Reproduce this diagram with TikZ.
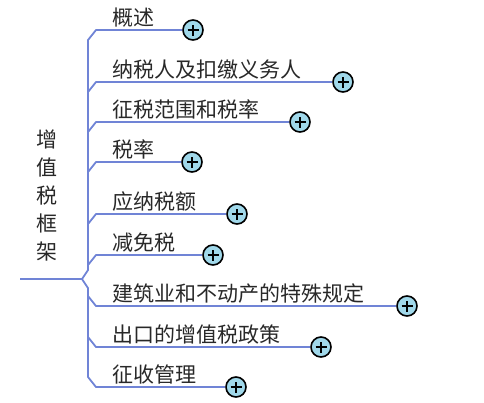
\documentclass[tikz,border=0pt]{standalone}
\usepackage{fontspec}
\setmainfont{Noto Sans CJK SC}
\definecolor{lineblue}{RGB}{112,132,214}
\definecolor{plusfill}{RGB}{160,216,234}
\definecolor{txtgray}{RGB}{40,40,40}
\begin{document}
\begin{tikzpicture}[x=1pt,y=-1pt,
  branch/.style={draw=lineblue, line width=1.8pt, line join=round},
  lbl/.style={anchor=base west, inner sep=0pt, font=\fontsize{21}{21}\selectfont, text=txtgray},
  plus/.style={circle, draw=black, line width=1.6pt, fill=plusfill, minimum size=20pt, inner sep=0pt,
    path picture={\draw[line width=1.6pt] ([xshift=-5.5pt]path picture bounding box.center) -- ([xshift=5.5pt]path picture bounding box.center);
                  \draw[line width=1.6pt] ([yshift=-5.5pt]path picture bounding box.center) -- ([yshift=5.5pt]path picture bounding box.center);}}
]
\useasboundingbox (0,0) rectangle (484,402);

% root
\node[inner sep=0pt, align=center, font=\fontsize{21}{28}\selectfont, text=txtgray] (root) at (47,196) {增\\值\\税\\框\\架};

% plus circles
\node[plus] (c1) at (193,30) {};
\node[plus] (c2) at (343,82) {};
\node[plus] (c3) at (300,122) {};
\node[plus] (c4) at (192,162) {};
\node[plus] (c5) at (237,214) {};
\node[plus] (c6) at (213,255) {};
\node[plus] (c7) at (407,306) {};
\node[plus] (c8) at (321,347) {};
\node[plus] (c9) at (236,387) {};

% labels
\node[lbl] (l1) at (112,25) {概述};
\node[lbl] (l2) at (112,77) {纳税人及扣缴义务人};
\node[lbl] (l3) at (112,117) {征税范围和税率};
\node[lbl] (l4) at (112,157) {税率};
\node[lbl] (l5) at (112,209) {应纳税额};
\node[lbl] (l6) at (112,250) {减免税};
\node[lbl] (l7) at (112,301) {建筑业和不动产的特殊规定};
\node[lbl] (l8) at (112,342) {出口的增值税政策};
\node[lbl] (l9) at (112,382) {征收管理};

% coordinates
\coordinate (r0) at (20,279);
\coordinate (jn) at (82,279);
\coordinate (b1) at (96,30);
\coordinate (t1) at (88,40);
\coordinate (tup) at (88,270);
\coordinate (tdn) at (88,288);
\coordinate (t9) at (88,377);
\coordinate (b9) at (96,387);
\coordinate (k2) at (88,92);  \coordinate (b2) at (96,82);
\coordinate (k3) at (88,132); \coordinate (b3) at (96,122);
\coordinate (k4) at (88,172); \coordinate (b4) at (96,162);
\coordinate (k5) at (88,224); \coordinate (b5) at (96,214);
\coordinate (k6) at (88,265); \coordinate (b6) at (96,255);
\coordinate (k7) at (88,296); \coordinate (b7) at (96,306);
\coordinate (k8) at (88,337); \coordinate (b8) at (96,347);

% connectors
\draw[branch] (r0) -- (jn);
\draw[branch] (c1.west) -- (b1) -- (t1) -- (tup) -- (jn) -- (tdn) -- (t9) -- (b9) -- (c9.west);
\draw[branch] (k2) -- (b2) -- (c2.west);
\draw[branch] (k3) -- (b3) -- (c3.west);
\draw[branch] (k4) -- (b4) -- (c4.west);
\draw[branch] (k5) -- (b5) -- (c5.west);
\draw[branch] (k6) -- (b6) -- (c6.west);
\draw[branch] (k7) -- (b7) -- (c7.west);
\draw[branch] (k8) -- (b8) -- (c8.west);
\end{tikzpicture}
\end{document}
